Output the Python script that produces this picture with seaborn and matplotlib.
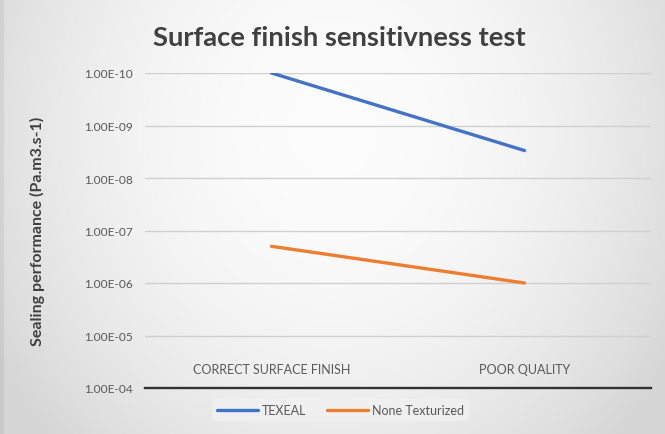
import numpy as np
import pandas as pd
import matplotlib
matplotlib.use("Agg")
import matplotlib.pyplot as plt
import seaborn as sns
from matplotlib.ticker import FixedLocator, FixedFormatter, NullLocator

# Chart data
categories = ["CORRECT SURFACE FINISH", "POOR QUALITY"]
series_names = ["TEXEAL", "None Texturized"]
texeal = [1.0e-10, 3.0e-9]
none_texturized = [2.0e-7, 1.0e-6]
y_ticks = [1e-10, 1e-9, 1e-8, 1e-7, 1e-6, 1e-5, 1e-4]
y_tick_labels = ["1.00E-10", "1.00E-09", "1.00E-08", "1.00E-07",
                 "1.00E-06", "1.00E-05", "1.00E-04"]

df = pd.DataFrame({
    "category": categories * 2,
    "value": texeal + none_texturized,
    "series": [series_names[0]] * 2 + [series_names[1]] * 2,
})
df["x"] = df["category"].map({c: i for i, c in enumerate(categories)})

sns.set_theme(style="white")
plt.rcParams["font.family"] = ["Lato", "DejaVu Sans"]

W, H = 665, 435
fig = plt.figure(figsize=(W / 100, H / 100), dpi=100)

# soft shaded background behind the chart
bgax = fig.add_axes([0, 0, 1, 1], zorder=-1)
yy, xx = np.mgrid[0:H, 0:W]
r = np.sqrt(((xx - W * 0.5) / (W * 0.55)) ** 2 + ((yy - H * 0.3) / (H * 0.95)) ** 2)
shade = np.clip(0.99 - 0.13 * r ** 2, 0.84, 1.0)
shade[:, :4] -= 0.05
bgax.imshow(np.dstack([shade, shade, shade]), aspect="auto", extent=[0, 1, 0, 1])
bgax.set_axis_off()

ax = fig.add_axes([145 / W, 1 - 389 / H, (651 - 145) / W, (389 - 74) / H])
ax.patch.set_alpha(0)

palette = {"TEXEAL": "#4472C4", "None Texturized": "#ED7D31"}
sns.lineplot(data=df, x="x", y="value", hue="series", palette=palette,
             linewidth=2.4, ax=ax, legend=True)

ax.set_yscale("log")
ax.set_ylim(1e-4, 1e-10)
ax.set_xlim(-0.5, 1.5)
ax.yaxis.set_major_locator(FixedLocator(y_ticks))
ax.yaxis.set_major_formatter(FixedFormatter(y_tick_labels))
ax.yaxis.set_minor_locator(NullLocator())
ax.set_xticks(range(len(categories)))
ax.set_xticklabels(categories)

ax.grid(axis="y", color="#d0d0d0", linewidth=1.0)
ax.grid(axis="x", visible=False)
ax.set_axisbelow(True)
for s in ["top", "left", "right"]:
    ax.spines[s].set_visible(False)
ax.spines["bottom"].set_color("#333333")
ax.spines["bottom"].set_linewidth(1.7)

ax.tick_params(axis="y", length=0, pad=9, labelsize=8.6, labelcolor="#595959")
ax.tick_params(axis="x", length=0, pad=-18, labelsize=9, labelcolor="#595959")

ax.set_xlabel("")
ax.set_ylabel("Sealing performance (Pa.m3.s-1)", fontsize=11.5, fontweight="bold",
              color="#404040", labelpad=28)

fig.text(0.51, 1 - 38 / H, "Surface finish sensitivness test", ha="center",
         va="center", fontsize=19.7, fontweight="bold", color="#404040")

sns.move_legend(ax, "center", bbox_to_anchor=(0.386, -0.07), ncol=2,
                frameon=True, title=None, fontsize=9, handlelength=3.3,
                columnspacing=1.6, handletextpad=0.3)
leg = ax.get_legend()
leg.get_frame().set_facecolor("#f1f1f1")
leg.get_frame().set_edgecolor("none")
for t in leg.get_texts():
    t.set_color("#595959")

fig.savefig("out.png", dpi=100)
